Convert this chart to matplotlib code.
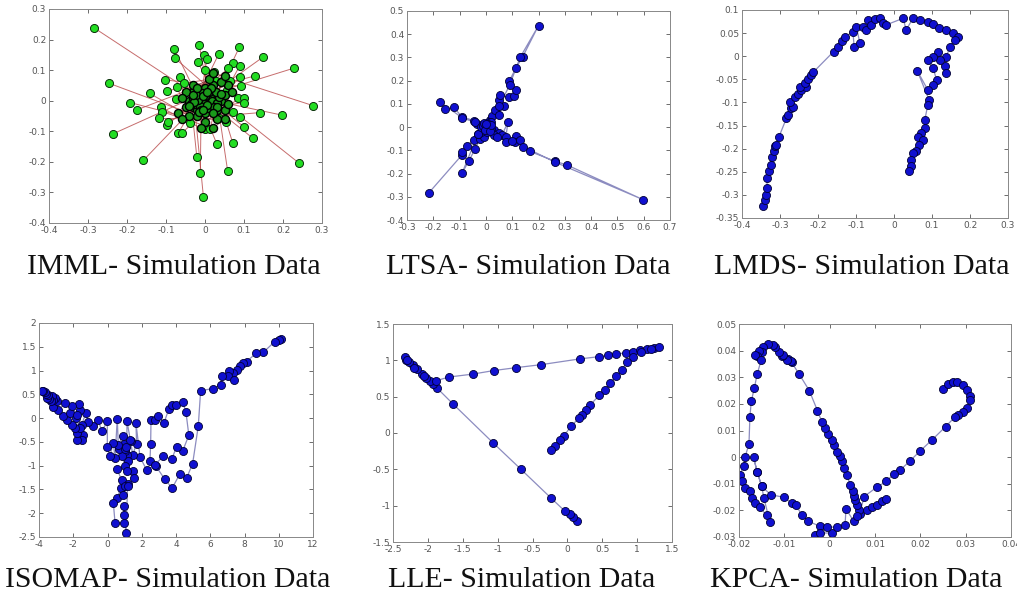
import matplotlib
matplotlib.use("Agg")
import matplotlib.pyplot as plt
from matplotlib.ticker import FuncFormatter

# ---------------- data ----------------
titles = ["IMML- Simulation Data", "LTSA- Simulation Data", "LMDS- Simulation Data",
          "ISOMAP- Simulation Data", "LLE- Simulation Data", "KPCA- Simulation Data"]

# IMML: outer points and central cluster
imml_outer_x = [-0.284, -0.015, -0.079, 0.088, 0.035, -0.002, 0.005, -0.077, 0.148, -0.018,
                0.071, 0.089, 0.229, 0.060, 0.000, 0.022, 0.128, 0.090, -0.064, -0.102,
                -0.246, 0.063, 0.029, -0.053, 0.092, -0.073, -0.098, -0.142, 0.056, -0.192,
                -0.075, 0.084, 0.101, 0.099, 0.277, -0.175, -0.113, -0.110, -0.117, 0.140,
                0.197, 0.071, 0.090, -0.098, -0.094, -0.038, 0.035, 0.054, 0.099, -0.068,
                -0.060, 0.000, 0.013, -0.237, 0.123, 0.030, 0.071, -0.021, -0.158, 0.242,
                -0.012, 0.058, -0.004]
imml_outer_y = [0.238, 0.183, 0.170, 0.175, 0.152, 0.148, 0.137, 0.139, 0.142, 0.126,
                0.123, 0.114, 0.107, 0.106, 0.100, 0.095, 0.081, 0.079, 0.076, 0.068,
                0.057, 0.066, 0.063, 0.057, 0.048, 0.046, 0.033, 0.024, 0.035, -0.006,
                0.005, 0.008, 0.010, -0.006, -0.016, -0.030, -0.022, -0.036, -0.058, -0.039,
                -0.047, -0.036, -0.052, -0.080, -0.069, -0.074, -0.058, -0.069, -0.085, -0.104,
                -0.107, -0.091, -0.091, -0.109, -0.123, -0.140, -0.138, -0.184, -0.195, -0.205,
                -0.236, -0.229, -0.315]
imml_core_x = [0.00, 0.01, -0.01, 0.02, -0.02, 0.01, -0.01, 0.03, -0.03, 0.02, -0.02, 0.04, -0.04,
               0.00, 0.00, 0.03, -0.03, 0.05, -0.05, 0.02, -0.02, 0.05, -0.05, 0.01, 0.06, -0.06,
               0.04, -0.04, 0.06, 0.00, -0.03, 0.03, 0.07, -0.07, 0.02, 0.05, -0.01, 0.02, 0.05, -0.06,
               0.005, -0.005, 0.015, -0.015, 0.025, -0.025, 0.012, -0.012, 0.018, -0.018, 0.008, -0.008,
               0.030, -0.030, 0.022, -0.022, 0.035, -0.035, 0.000, 0.010, -0.010, 0.028, -0.028, 0.004,
               -0.004, 0.016, -0.016, 0.040, -0.040, 0.032, -0.032, 0.006, -0.006, 0.020, -0.020]
imml_core_y = [0.00, 0.01, -0.01, -0.01, 0.01, -0.02, 0.02, 0.02, -0.02, 0.03, -0.03, 0.00, 0.00,
               0.04, -0.04, -0.03, 0.03, 0.02, -0.02, 0.05, -0.05, -0.03, 0.03, 0.07, 0.05, 0.01,
               0.06, -0.05, -0.01, -0.07, 0.05, -0.06, 0.03, -0.04, 0.09, 0.08, -0.09, -0.09, -0.06, -0.06,
               0.005, -0.005, -0.008, 0.008, 0.010, -0.012, 0.018, -0.018, 0.000, 0.002, -0.025, 0.025,
               -0.008, 0.010, -0.020, 0.020, 0.012, -0.010, 0.015, 0.030, -0.030, 0.028, -0.004, -0.014,
               0.014, 0.040, -0.038, 0.022, -0.018, -0.022, 0.020, 0.030, -0.030, -0.040, 0.040]

# LTSA
ltsa_x = [-0.216, -0.091, -0.091, -0.072, -0.047, -0.024, -0.009, -0.020, 0.000, -0.041, -0.066, -0.091,
          -0.030, 0.000, -0.015, -0.034, -0.047, -0.091, -0.123, -0.157, -0.173, -0.090, -0.040, 0.005,
          0.014, 0.023, 0.035, 0.048, 0.067, 0.048, 0.052, 0.089, 0.108, 0.114, 0.089, 0.115, 0.140,
          0.200, 0.130, 0.090, 0.050, 0.010, 0.029, 0.048, 0.061, 0.084, 0.076, 0.077, 0.115, 0.111,
          0.130, 0.140, 0.168, 0.261, 0.308, 0.599, 0.261, 0.100, 0.020, 0.000, 0.010, -0.010,
          0.005, -0.030, 0.020, 0.030, -0.020, 0.042, 0.003, -0.005, 0.012, -0.012, 0.008, -0.003,
          0.015, -0.008, 0.018, 0.000]
ltsa_y = [-0.282, -0.120, -0.108, -0.080, -0.055, -0.051, -0.041, -0.020, 0.000, -0.094, -0.148, -0.199,
          -0.030, 0.000, 0.009, 0.014, 0.028, 0.045, 0.085, 0.077, 0.107, 0.040, 0.020, 0.005,
          0.031, 0.048, 0.074, 0.052, 0.091, 0.117, 0.138, 0.128, 0.134, 0.160, 0.199, 0.256, 0.303,
          0.437, 0.300, 0.180, 0.090, 0.020, -0.012, -0.027, -0.034, 0.021, -0.041, -0.065, -0.037, -0.062,
          -0.055, -0.084, -0.105, -0.146, -0.163, -0.313, -0.150, -0.060, -0.010, -0.010, 0.000, 0.010,
          -0.020, -0.030, 0.020, -0.035, 0.000, -0.041, 0.006, -0.006, -0.004, 0.004, 0.012, -0.014,
          -0.018, 0.018, 0.008, 0.015]

# LMDS
lmds_x = [-0.345, -0.340, -0.338, -0.334, -0.334, -0.329, -0.325, -0.320, -0.316, -0.314, -0.310, -0.303,
          -0.283, -0.279, -0.272, -0.266, -0.275, -0.261, -0.253, -0.244, -0.231, -0.248, -0.235, -0.226,
          -0.218, -0.213, -0.159, -0.147, -0.136, -0.130, -0.108, -0.105, -0.090, -0.099, -0.082, -0.073,
          -0.068, -0.060, -0.051, -0.038, -0.029, -0.020, 0.024, 0.032, 0.050, 0.068, 0.089, 0.103,
          0.118, 0.138, 0.155, 0.168, 0.160, 0.147, 0.138, 0.133, 0.138, 0.120, 0.116, 0.103, 0.089,
          0.103, 0.112, 0.103, 0.089, 0.061, 0.092, 0.089, 0.081, 0.081, 0.072, 0.063, 0.076, 0.067,
          0.058, 0.050, 0.046, 0.046, 0.039]
lmds_y = [-0.325, -0.310, -0.300, -0.285, -0.264, -0.249, -0.235, -0.217, -0.206, -0.195, -0.193, -0.175,
          -0.134, -0.127, -0.112, -0.109, -0.098, -0.089, -0.081, -0.074, -0.067, -0.066, -0.057, -0.050,
          -0.040, -0.035, 0.010, 0.021, 0.032, 0.041, 0.053, 0.021, 0.029, 0.064, 0.064, 0.057,
          0.078, 0.068, 0.080, 0.082, 0.071, 0.068, 0.082, 0.057, 0.082, 0.078, 0.073, 0.070,
          0.060, 0.057, 0.050, 0.042, 0.035, 0.021, -0.001, -0.022, -0.037, -0.008, 0.010, -0.001, -0.008,
          -0.026, -0.051, -0.062, -0.073, -0.031, -0.094, -0.105, -0.138, -0.156, -0.166, -0.174, -0.181, -0.192,
          -0.206, -0.210, -0.224, -0.238, -0.249]

# ISOMAP
iso_x = [10.16, 10.03, 9.77, 9.09, 8.70, 8.12, 7.93, 7.73, 7.54, 7.34, 7.11, 7.05, 7.38, 6.66, 6.60, 6.18,
         5.44, 5.30, 4.97, 4.62, 4.23, 3.78, 3.35, 2.83, 2.48, 2.52, 2.54, 2.77, 2.96, 3.30, 3.59, 3.74,
         4.00, 4.38, 4.58, 4.75, 4.38, 4.03, 3.74, 3.26, 2.77, 2.30, 1.90, 1.66, 1.70, 1.47, 1.35, 1.14,
         1.12, 1.02, 1.20, 1.05, 0.57, 0.83, 0.77, 0.57, 0.34, 0.44, 0.96, 0.96, 0.96, 1.08, 1.18, 1.02,
         0.88, 1.21, 1.51, 1.57, 1.12, 0.85, 0.70, 0.95, 1.00, 1.10, 1.30, 0.88, 0.63, 0.57, 0.44, 0.34,
         0.14, -0.01, -0.01, -0.34, -0.54, -0.83, -1.16, -1.26, -1.51, -1.45, -1.51, -1.76, -1.76, -1.61,
         -1.84, -1.61, -1.65, -1.90, -2.09, -2.39, -2.58, -2.19, -1.80, -2.09, -2.48, -2.87, -3.16, -2.97,
         -3.07, -3.20, -3.26, -3.30, -3.40, -3.55, -3.46, -3.60, -3.65, -3.75, -3.84]
iso_y = [1.67, 1.65, 1.61, 1.38, 1.37, 1.19, 1.16, 1.10, 1.02, 0.95, 1.00, 0.88, 0.81, 0.88, 0.70, 0.62,
         0.58, -0.17, -0.96, -1.26, -1.17, -1.47, -1.29, -1.01, -0.91, -0.54, -0.05, -0.05, 0.04, -0.10, 0.20, 0.28,
         0.27, 0.34, 0.13, -0.36, -0.70, -0.61, -0.87, -0.80, -0.98, -1.10, -0.82, -0.10, -0.54, -0.77, -0.49, -0.07,
         -0.77, -0.70, -0.90, -1.00, -1.08, -1.31, -1.47, -1.68, -1.78, -2.20, -2.20, -2.03, -1.85, -2.41, -1.38, -1.43,
         -1.61, -1.43, -1.12, -1.26, -1.12, -0.80, -0.65, -0.55, -0.65, -0.60, -0.45, -0.38, -0.57, -0.01, -0.84, -0.52,
         -0.80, -0.61, -0.07, -0.28, -0.03, -0.17, -0.08, 0.11, -0.14, -0.35, -0.47, -0.47, -0.31, -0.21,
         0.00, 0.18, 0.30, -0.21, -0.14, -0.05, 0.04, 0.11, 0.07, 0.26, 0.32, 0.18, 0.23, 0.35,
         0.42, 0.38, 0.46, 0.35, 0.40, 0.42, 0.49, 0.50, 0.55, 0.57, 0.58]

# LLE
lle_x = [0.135, 0.087, 0.040, -0.030, -0.240, -0.665, -1.060, -1.640, -1.870, -1.930, -1.970, -2.020,
         -2.080, -2.160, -2.220, -2.270, -2.310, -2.330, -2.300, -2.200, -2.050, -1.880, -1.700, -1.360,
         -1.050, -0.730, -0.380, 0.180, 0.450, 0.580, 0.700, 0.840, 0.940, 1.040, 1.140, 1.240, 1.320,
         1.200, 1.050, 0.940, 0.860, 0.780, 0.700, 0.610, 0.540, 0.460, 0.330, 0.270, 0.210, 0.170,
         0.050, -0.050, -0.100, -0.180, -0.240]
lle_y = [-1.210, -1.160, -1.110, -1.080, -0.890, -0.500, -0.140, 0.400, 0.620, 0.670, 0.720, 0.760,
         0.810, 0.880, 0.940, 0.980, 1.010, 1.040, 1.000, 0.900, 0.780, 0.720, 0.770, 0.810,
         0.860, 0.900, 0.940, 1.020, 1.050, 1.070, 1.090, 1.100, 1.120, 1.140, 1.150, 1.170, 1.180,
         1.150, 1.110, 1.050, 0.980, 0.870, 0.780, 0.690, 0.590, 0.520, 0.390, 0.320, 0.250, 0.210,
         0.090, -0.040, -0.100, -0.180, -0.240]

# KPCA
kpca_x = [0.0251, 0.0262, 0.0272, 0.0281, 0.0294, 0.0304, 0.0310, 0.0310, 0.0304, 0.0295, 0.0284, 0.0277,
          0.0256, 0.0226, 0.0200, 0.0178, 0.0156, 0.0141, 0.0125, 0.0104, 0.0076,
          0.0066, 0.0064, 0.0060, 0.0056, 0.0053, 0.0051, 0.0045, 0.0038, 0.0032, 0.0027, 0.0022, 0.0016,
          0.0010, 0.0005, -0.0003, -0.0010, -0.0017, -0.0027, -0.0045, -0.0067, -0.0084, -0.0091, -0.0085,
          -0.0095, -0.0105, -0.0102, -0.0111, -0.0120, -0.0125, -0.0135, -0.0146, -0.0150, -0.0155, -0.0160,
          -0.0165, -0.0151, -0.0160, -0.0166, -0.0173, -0.0176, -0.0178, -0.0187, -0.0190, -0.0198, -0.0194,
          -0.0187, -0.0176, -0.0172, -0.0165, -0.0154, -0.0139, -0.0132, -0.0145, -0.0150, -0.0160, -0.0168,
          -0.0160, -0.0150, -0.0130, -0.0101, -0.0084, -0.0074, -0.0062, -0.0047, -0.0021, -0.0032, -0.0021,
          0.0005, -0.0006, 0.0016, 0.0034, 0.0036, 0.0053, 0.0060, 0.0082, 0.0093, 0.0104, 0.0115, 0.0125]
kpca_y = [0.0256, 0.0274, 0.0284, 0.0281, 0.0271, 0.0253, 0.0231, 0.0215, 0.0186, 0.0171, 0.0159, 0.0152,
          0.0115, 0.0065, 0.0024, -0.0013, -0.0048, -0.0064, -0.0091, -0.0113, -0.0148,
          -0.0215, -0.0200, -0.0179, -0.0160, -0.0145, -0.0129, -0.0104, -0.0066, -0.0039, -0.0016, 0.0003, 0.0021,
          0.0044, 0.0065, 0.0086, 0.0109, 0.0131, 0.0175, 0.0250, 0.0311, 0.0356, 0.0370, 0.0360,
          0.0365, 0.0378, 0.0384, 0.0396, 0.0415, 0.0420, 0.0424, 0.0415, 0.0395, 0.0399, 0.0380,
          0.0384, 0.0365, 0.0311, 0.0261, 0.0209, 0.0149, 0.0049, -0.0001, -0.0035, -0.0066, -0.0091,
          -0.0116, -0.0129, -0.0154, -0.0173, -0.0189, -0.0219, -0.0244, -0.0154, -0.0110, -0.0054, -0.0001,
          -0.0054, -0.0110, -0.0141, -0.0151, -0.0173, -0.0181, -0.0216, -0.0241, -0.0260, -0.0291, -0.0285,
          -0.0285, -0.0263, -0.0263, -0.0254, -0.0194, -0.0241, -0.0223, -0.0198, -0.0189, -0.0179, -0.0164, -0.0156]

# axis limits / ticks
xlims = [(-0.4, 0.3), (-0.3, 0.7), (-0.4, 0.3), (-4, 12), (-2.5, 1.5), (-0.02, 0.04)]
ylims = [(-0.4, 0.3), (-0.4, 0.5), (-0.35, 0.1), (-2.5, 2), (-1.5, 1.5), (-0.03, 0.05)]
xsteps = [0.1, 0.1, 0.1, 2, 0.5, 0.01]
ysteps = [0.1, 0.1, 0.05, 0.5, 0.5, 0.01]

# ---------------- figure ----------------
W, H = 1017, 600
fig = plt.figure(figsize=(W / 100, H / 100), dpi=100)

boxes = [(49, 9, 322, 223), (407, 11, 670, 220), (742, 10, 1008, 218),
         (39, 323, 313, 537), (393, 324, 672, 542), (739, 324, 1011, 537)]
title_pos = [(174, 267), (528, 267), (862, 267), (168, 580), (522, 580), (856, 580)]

fmt = FuncFormatter(lambda v, p: ("%g" % round(v, 6)) if abs(v) > 1e-12 else "0")

axes = []
for (x0, y0, x1, y1) in boxes:
    ax = fig.add_axes([x0 / W, 1 - y1 / H, (x1 - x0) / W, (y1 - y0) / H])
    axes.append(ax)

for i, ax in enumerate(axes):
    lo, hi = xlims[i]
    n = int(round((hi - lo) / xsteps[i]))
    ax.set_xticks([lo + k * xsteps[i] for k in range(n + 1)])
    lo2, hi2 = ylims[i]
    m = int(round((hi2 - lo2) / ysteps[i]))
    ax.set_yticks([lo2 + k * ysteps[i] for k in range(m + 1)])
    ax.set_xlim(*xlims[i])
    ax.set_ylim(*ylims[i])
    ax.xaxis.set_major_formatter(fmt)
    ax.yaxis.set_major_formatter(fmt)
    ax.tick_params(direction="in", top=True, right=True, length=3, width=0.6,
                   labelsize=6.5, colors="#555555", pad=2)
    for s in ax.spines.values():
        s.set_color("#888888")
        s.set_linewidth(0.7)
    fig.text(title_pos[i][0] / W, 1 - title_pos[i][1] / H, titles[i],
             ha="center", va="center", fontsize=21.5, family="Liberation Serif", color="#111111")

blue = "#1010d0"
edge = "#000033"
lc = "#8c8cc0"
ms = 5.8

# IMML: red links from outer points to core
ax = axes[0]
nc = len(imml_core_x)
for k in range(len(imml_outer_x)):
    j = k % nc
    ax.plot([imml_outer_x[k], imml_core_x[j]], [imml_outer_y[k], imml_core_y[j]],
            color="#b84848", lw=0.7, alpha=0.8, zorder=1)
ax.plot(imml_core_x, imml_core_y, color="#702020", lw=0.6, alpha=0.7, zorder=1)
ax.plot(imml_outer_x, imml_outer_y, ls="none", marker="o", ms=ms,
        mfc="#22dd22", mec="#0a300a", mew=0.7, zorder=2)
ax.plot(imml_core_x, imml_core_y, ls="none", marker="o", ms=ms,
        mfc="#1a9a1a", mec="#000000", mew=1.0, zorder=3)

series = [(ltsa_x, ltsa_y), (lmds_x, lmds_y), (iso_x, iso_y), (lle_x, lle_y), (kpca_x, kpca_y)]
for ax, (xs, ys) in zip(axes[1:], series):
    ax.plot(xs, ys, color=lc, lw=0.9, zorder=1)
    ax.plot(xs, ys, ls="none", marker="o", ms=ms, mfc=blue, mec=edge, mew=0.6, zorder=2)

fig.savefig("out.png", dpi=100)
